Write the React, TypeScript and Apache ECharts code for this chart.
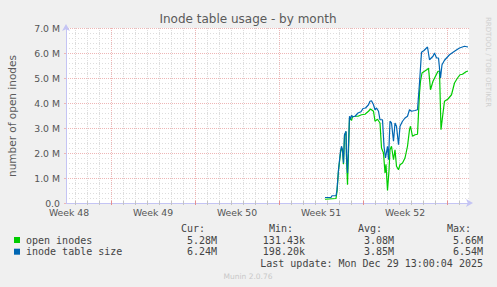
import React, { useEffect, useRef } from "react";
import * as echarts from "echarts";

// ---- text ----
const TITLE = "Inode table usage - by month";
const Y_NAME = "number of open inodes";
const WEEK_LABELS = ["Week 48", "Week 49", "Week 50", "Week 51", "Week 52"];
// hours relative to Mon Dec 1 00:00
const WEEK_LABEL_HOURS = [-84, 84, 252, 420, 588];
const WEEK_START_HOURS = [0, 168, 336, 504, 672];
const X_MIN = -90;
const X_MAX = 716;
const Y_MAX = 7; // millions

// ---- series data: [hour, millions] ----
const openInodes: [number, number][] = [
  [428, 0.15], [450, 0.18], [452, 0.45], [455, 1.3], [459, 2.0], [461, 2.2], [463, 2.1],
  [465, 1.55], [467, 2.7], [470, 2.85], [471, 1.8], [473, 0.73], [477, 3.4], [481, 3.3],
  [483, 3.45], [489, 3.47], [494, 3.47], [501, 3.53], [508, 3.55], [515, 3.67], [519, 3.76],
  [525, 3.67], [528, 3.27], [533, 3.35], [538, 3.2], [541, 2.2], [545, 2.0], [548, 1.2],
  [550, 1.55], [553, 0.5], [556, 1.3], [558, 2.13], [561, 2.27], [565, 1.73], [568, 2.13],
  [571, 1.47], [575, 1.33], [578, 1.53], [583, 1.6], [588, 1.8], [593, 2.27], [597, 2.93],
  [599, 3.07], [603, 2.67], [608, 2.73], [613, 2.75], [617, 4.4], [619, 4.87], [622, 5.2],
  [627, 5.27], [633, 5.35], [635, 5.4], [639, 4.53], [644, 4.87], [649, 5.07], [654, 5.27],
  [657, 5.27], [660, 2.93], [664, 3.6], [667, 4.07], [674, 4.16], [681, 4.33], [687, 4.8],
  [693, 5.0], [698, 5.13], [703, 5.15], [710, 5.25], [714, 5.28],
];
const tableSize: [number, number][] = [
  [428, 0.22], [440, 0.22], [442, 0.29], [450, 0.29], [452, 0.53], [455, 1.33], [459, 2.07],
  [461, 2.27], [463, 2.13], [465, 1.6], [467, 2.73], [470, 2.87], [471, 1.87], [473, 1.2],
  [477, 3.47], [479, 3.35], [481, 3.5], [484, 3.45], [488, 3.47], [494, 3.6], [500, 3.65],
  [504, 3.78], [509, 3.8], [515, 3.93], [518, 4.07], [521, 4.09], [525, 3.93], [528, 3.73],
  [531, 3.8], [535, 3.67], [538, 3.33], [543, 3.33], [546, 2.27], [549, 1.8], [553, 2.27],
  [555, 1.73], [558, 3.27], [561, 3.2], [565, 2.47], [568, 3.2], [571, 3.07], [575, 2.33],
  [578, 3.07], [583, 3.27], [588, 3.4], [593, 3.47], [597, 3.73], [601, 3.67], [608, 3.7],
  [613, 3.73], [617, 4.8], [621, 6.03], [626, 6.1], [633, 6.24], [637, 5.73], [644, 5.87],
  [647, 6.0], [651, 5.8], [655, 5.8], [659, 5.0], [662, 5.53], [667, 5.71], [677, 5.93],
  [687, 6.07], [697, 6.2], [707, 6.27], [714, 6.24],
];

// ---- legend ----
const LEGEND_NAMES = ["open inodes", "inode table size"];
const LEGEND_COLORS = ["#00CC00", "#0066B3"];
const COL_HEADERS = ["Cur:", "Min:", "Avg:", "Max:"];
const OPEN_STATS = ["5.28M", "131.43k", "3.08M", "5.66M"];
const SIZE_STATS = ["6.24M", "198.20k", "3.85M", "6.54M"];
const LAST_UPDATE = "Last update: Mon Dec 29 13:00:04 2025";
const FOOTER = "Munin 2.0.76";
const SIDE_TEXT = "RRDTOOL / TOBI OETIKER";

const SANS = "DejaVu Sans";
const MONO = "DejaVu Sans Mono";
const GRID_GRAY = "#dddddd";
const GRID_RED = "#eeb6b6";

// vertical dotted grid lines drawn as 1px dots through the axis scale
function gridSeries(hours: number[], color: string, tickColor: string) {
  return {
    type: "custom",
    silent: true,
    z: 1,
    data: hours.map((h) => [h, 0]),
    renderItem: (params: any, api: any) => {
      const h = api.value(0);
      const top = api.coord([h, Y_MAX]);
      const bot = api.coord([h, 0]);
      const x = Math.round(top[0]);
      const children: any[] = [];
      for (let y = Math.round(top[1]); y < bot[1] - 1; y += 2) {
        children.push({ type: "rect", shape: { x, y, width: 1, height: 1 }, style: { fill: color } });
      }
      children.push({
        type: "rect",
        shape: { x, y: Math.round(bot[1]) - 2, width: 1, height: 4 },
        style: { fill: tickColor },
      });
      return { type: "group", children };
    },
  };
}

export default function App() {
  const ref = useRef<HTMLDivElement>(null);
  useEffect(() => {
    document.body.style.margin = "0";
    const chart = echarts.init(ref.current!, null, { renderer: "svg" });

    const dayHours: number[] = [];
    for (let h = -72; h <= X_MAX; h += 24) {
      if (WEEK_START_HOURS.indexOf(h) < 0) dayHours.push(h);
    }

    const colHeaderX = [181, 269, 358, 447];
    const colValueX = [217, 305, 394, 483];
    const graphics: any[] = [
      {
        type: "text", x: 248, y: 19,
        style: { text: TITLE, fill: "#5a5a5a", fontSize: 12, fontFamily: SANS, align: "center", verticalAlign: "middle" },
      },
      {
        type: "text", x: 12, y: 116, rotation: Math.PI / 2,
        style: { text: Y_NAME, fill: "#5a5a5a", fontSize: 10.5, fontFamily: SANS, align: "center", verticalAlign: "middle" },
      },
      {
        type: "text", x: 488, y: 62, rotation: -Math.PI / 2,
        style: { text: SIDE_TEXT, fill: "#cfcfcf", fontSize: 7, fontFamily: SANS, align: "center", verticalAlign: "middle" },
      },
      {
        type: "text", x: 248, y: 276,
        style: { text: FOOTER, fill: "#c8c8c8", fontSize: 7.5, fontFamily: SANS, align: "center", verticalAlign: "middle" },
      },
      {
        type: "text", x: 483, y: 263.5,
        style: { text: LAST_UPDATE, fill: "#444", fontSize: 10, fontFamily: MONO, align: "right", verticalAlign: "middle" },
      },
    ];
    COL_HEADERS.forEach((t, i) => {
      graphics.push({
        type: "text", x: colHeaderX[i], y: 228,
        style: { text: t, fill: "#444", fontSize: 10, fontFamily: MONO, align: "left", verticalAlign: "middle" },
      });
    });
    const rows = [OPEN_STATS, SIZE_STATS];
    const rowY = [240, 251.7];
    LEGEND_NAMES.forEach((name, r) => {
      graphics.push({
        type: "rect", shape: { x: 14, y: rowY[r] - 3, width: 6, height: 6 },
        style: { fill: LEGEND_COLORS[r] },
      });
      graphics.push({
        type: "text", x: 26, y: rowY[r],
        style: { text: name, fill: "#444", fontSize: 10, fontFamily: MONO, align: "left", verticalAlign: "middle" },
      });
      rows[r].forEach((v, i) => {
        graphics.push({
          type: "text", x: colValueX[i], y: rowY[r],
          style: { text: v, fill: "#444", fontSize: 10, fontFamily: MONO, align: "right", verticalAlign: "middle" },
        });
      });
    });

    chart.setOption({
      animation: false,
      backgroundColor: "#f0f0f0",
      grid: { left: 66, top: 28, width: 403, height: 175, show: true, backgroundColor: "#ffffff", borderWidth: 0 },
      xAxis: {
        type: "value",
        min: X_MIN,
        max: X_MAX,
        axisLine: {
          show: true, onZero: false, symbol: ["none", "arrow"], symbolSize: [6, 7], symbolOffset: [0, 4],
          lineStyle: { color: "#c4c4f4", width: 1 },
        },
        axisTick: { show: false },
        splitLine: { show: false },
        axisLabel: {
          customValues: WEEK_LABEL_HOURS,
          formatter: (v: number) => {
            const i = WEEK_LABEL_HOURS.indexOf(Math.round(v));
            return i >= 0 ? WEEK_LABELS[i] : "";
          },
          color: "#555", fontSize: 9.3, fontFamily: SANS, margin: 5,
        },
      },
      yAxis: {
        type: "value",
        min: 0,
        max: Y_MAX,
        interval: 1,
        axisLine: {
          show: true, onZero: false, symbol: ["none", "arrow"], symbolSize: [6, 7], symbolOffset: [0, 4],
          lineStyle: { color: "#c4c4f4", width: 1 },
        },
        axisTick: { show: true, length: 2, lineStyle: { color: GRID_RED } },
        minorTick: { show: false, splitNumber: 5 },
        splitLine: { show: true, lineStyle: { color: GRID_RED, type: [1, 1], width: 1 } },
        minorSplitLine: { show: true, lineStyle: { color: GRID_GRAY, type: [1, 2], width: 1 } },
        axisLabel: {
          formatter: (v: number) => (v === 0 ? "0.0" : v.toFixed(1) + " M"),
          color: "#555", fontSize: 9.3, fontFamily: SANS, margin: 6,
        },
      },
      series: [
        gridSeries(dayHours, GRID_GRAY, "#c4c4c4"),
        gridSeries(WEEK_START_HOURS, GRID_RED, "#e59090"),
        {
          name: LEGEND_NAMES[0], type: "line", data: openInodes, showSymbol: false, z: 3,
          lineStyle: { color: LEGEND_COLORS[0], width: 1.2 }, itemStyle: { color: LEGEND_COLORS[0] },
        },
        {
          name: LEGEND_NAMES[1], type: "line", data: tableSize, showSymbol: false, z: 4,
          lineStyle: { color: LEGEND_COLORS[1], width: 1.2 }, itemStyle: { color: LEGEND_COLORS[1] },
        },
      ],
      graphic: graphics,
    });
    return () => chart.dispose();
  }, []);
  return <div ref={ref} style={{ position: "fixed", left: 0, top: 0, width: 497, height: 287 }} />;
}
